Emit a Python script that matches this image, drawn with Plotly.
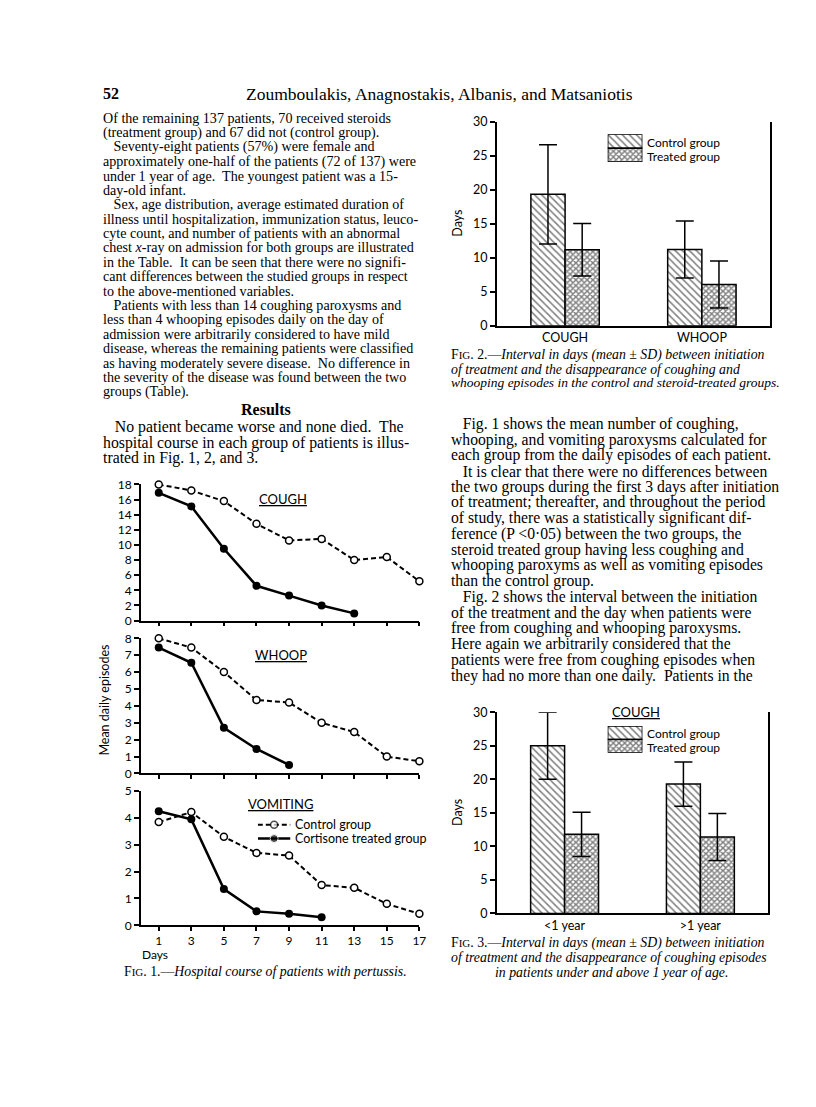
import plotly.graph_objects as go

# ---- Fig. 1: hospital course, mean daily episodes (odd days) ----
days = [1, 3, 5, 7, 9, 11, 13, 15, 17]
cough_control = [18.0, 17.2, 15.8, 12.8, 10.6, 10.8, 8.0, 8.4, 5.2]
cough_treated = [16.9, 15.1, 9.5, 4.6, 3.3, 2.0, 0.95]
whoop_control = [8.0, 7.45, 6.0, 4.35, 4.2, 3.0, 2.45, 1.0, 0.72]
whoop_treated = [7.45, 6.55, 2.7, 1.45, 0.5]
vomit_control = [3.85, 4.22, 3.3, 2.7, 2.6, 1.5, 1.4, 0.8, 0.43]
vomit_treated = [4.25, 3.95, 1.35, 0.52, 0.43, 0.3]

# ---- Fig. 2: days to disappearance (mean +- SD) ----
fig2_cats = ["COUGH", "WHOOP"]
fig2_control = [19.3, 11.2]
fig2_control_sd = [7.3, 4.2]
fig2_treated = [11.15, 6.05]
fig2_treated_sd = [3.85, 3.45]

# ---- Fig. 3: coughing, by age ----
fig3_cats = ["<1 year", ">1 year"]
fig3_control = [25.0, 19.3]
fig3_control_sd = [5.0, 3.3]
fig3_treated = [11.8, 11.4]
fig3_treated_sd = [3.3, 3.5]

SERIF = "Liberation Serif"
SANS = "Lato"

# page is drawn in pixel coords; browser body keeps an 8px margin
OFF = 8
PW, PH = 800, 1091


def fx(px):
    return (px - OFF) / PW


def fy(py):
    return 1 - (py - OFF) / PH


fig = go.Figure()
layout = {}
annotations = []


def txt(s, x, y, size, family=SERIF, anchor="left", angle=0):
    annotations.append(dict(
        text=s, x=fx(x), y=fy(y), xref="paper", yref="paper",
        xanchor=anchor, yanchor="middle", showarrow=False, textangle=angle,
        font=dict(family=family, size=size, color="black")
    ))


# ---------------- Fig. 1 panels ----------------
CONTROL_LINE = dict(color="black", width=2, dash="5px,3px")
TREATED_LINE = dict(color="black", width=2.5)
OPEN_MK = dict(symbol="circle", size=7, color="white", line=dict(color="black", width=1.5))
FULL_MK = dict(symbol="circle", size=8, color="black")

panels = [
    (1, cough_control, cough_treated, 18, 2, 483, 621, False),
    (2, whoop_control, whoop_treated, 8, 1, 639, 776, False),
    (3, vomit_control, vomit_treated, 5, 1, 794, 930, True),
]
for n, ctrl, trt, ymax, dt, ytop, ybot, labels in panels:
    fig.add_trace(go.Scatter(
        x=days[:len(ctrl)], y=ctrl, mode="lines+markers", xaxis=f"x{n}", yaxis=f"y{n}",
        line=CONTROL_LINE, marker=OPEN_MK, cliponaxis=False, showlegend=False
    ))
    fig.add_trace(go.Scatter(
        x=days[:len(trt)], y=trt, mode="lines+markers", xaxis=f"x{n}", yaxis=f"y{n}",
        line=TREATED_LINE, marker=FULL_MK, cliponaxis=False, showlegend=False
    ))
    layout[f"xaxis{n}"] = dict(
        domain=[fx(142), fx(423)], range=[-0.1, 17], anchor=f"y{n}",
        showline=True, linecolor="black", linewidth=1.5, showgrid=False, zeroline=False,
        ticks="outside", tickvals=days, ticklen=4, tickwidth=1.5, tickcolor="black",
        showticklabels=labels, tickfont=dict(family=SANS, size=12, color="black")
    )
    layout[f"yaxis{n}"] = dict(
        domain=[fy(ybot), fy(ytop)], range=[0, ymax], dtick=dt, anchor=f"x{n}",
        showline=True, linecolor="black", linewidth=1.5, showgrid=False, zeroline=False,
        ticks="outside", ticklen=5, tickwidth=1.5, tickcolor="black",
        tickfont=dict(family=SANS, size=12, color="black")
    )

txt("<u>COUGH</u>", 285, 498, 13, SANS, "center")
txt("<u>WHOOP</u>", 283, 656, 13, SANS, "center")
txt("<u>VOMITING</u>", 283, 807, 13, SANS, "center")
txt("Mean daily episodes", 105, 702, 12.5, SANS, "center", -90)
txt("Days", 141, 960, 12, SANS)

# legend samples for Fig. 1
fig.add_trace(go.Scatter(
    x=[0, 0.5, 1], y=[1, 1, 1], mode="lines+markers", xaxis="x4", yaxis="y4",
    line=CONTROL_LINE, marker=dict(OPEN_MK, size=[0, 7, 0]), showlegend=False, cliponaxis=False
))
fig.add_trace(go.Scatter(
    x=[0, 0.5, 1], y=[0, 0, 0], mode="lines+markers", xaxis="x4", yaxis="y4",
    line=TREATED_LINE, marker=dict(FULL_MK, size=[0, 8, 0]), showlegend=False, cliponaxis=False
))
layout["xaxis4"] = dict(domain=[fx(260), fx(293)], range=[0, 1], visible=False, anchor="y4")
layout["yaxis4"] = dict(domain=[fy(849), fy(821)], range=[-0.5, 1.5], visible=False, anchor="x4")
txt("Control group", 296, 828, 12.5, SANS)
txt("Cortisone treated group", 296, 842, 12.5, SANS)

# ---------------- Fig. 2 / Fig. 3 bars ----------------
CTRL_PAT = dict(shape="\\", size=5, solidity=0.3, fgcolor="black", bgcolor="white")
TRT_PAT = dict(shape="x", size=4, solidity=0.6, fgcolor="black", bgcolor="white")
BAR_LINE = dict(color="black", width=1.5)


def err(sd):
    return dict(type="data", array=sd, color="black", thickness=1.5, width=9)


bar_sets = [
    (5, 6, fig2_cats, fig2_control, fig2_control_sd, fig2_treated, fig2_treated_sd,
     (501, 777, 115, 322), (128, 156)),
    (7, 8, fig3_cats, fig3_control, fig3_control_sd, fig3_treated, fig3_treated_sd,
     (501, 775, 714, 918), (728, 755)),
]
for n, m, cats, ctrl, ctrl_sd, trt, trt_sd, (x0, x1, ytop, ybot), (sw0, sw1) in bar_sets:
    fig.add_trace(go.Bar(
        x=cats, y=ctrl, error_y=err(ctrl_sd), xaxis=f"x{n}", yaxis=f"y{n}",
        marker=dict(color="white", line=BAR_LINE, pattern=CTRL_PAT),
        cliponaxis=False, showlegend=False
    ))
    fig.add_trace(go.Bar(
        x=cats, y=trt, error_y=err(trt_sd), xaxis=f"x{n}", yaxis=f"y{n}",
        marker=dict(color="white", line=BAR_LINE, pattern=TRT_PAT),
        cliponaxis=False, showlegend=False
    ))
    layout[f"xaxis{n}"] = dict(
        domain=[fx(x0), fx(x1)], anchor=f"y{n}", type="category",
        categoryorder="array", categoryarray=cats,
        showline=True, linecolor="black", linewidth=1.5, showgrid=False, zeroline=False,
        ticks="", tickfont=dict(family=SANS, size=12.5, color="black")
    )
    layout[f"yaxis{n}"] = dict(
        domain=[fy(ybot), fy(ytop)], range=[0, 30], dtick=5, anchor=f"x{n}",
        showline=True, mirror=True, linecolor="black", linewidth=1.5,
        showgrid=False, zeroline=False, ticks="outside", ticklen=5, tickwidth=1.5,
        tickcolor="black", tickfont=dict(family=SANS, size=12.5, color="black")
    )
    # legend swatches (stacked boxes)
    fig.add_trace(go.Bar(
        x=[0, 0], y=[1, 1], base=[1, 0], width=1, xaxis=f"x{m}", yaxis=f"y{m}",
        marker=dict(color="white", line=BAR_LINE, pattern=dict(
            shape=["\\", "x"], size=[5, 4], solidity=[0.3, 0.6],
            fgcolor="black", bgcolor="white")),
        showlegend=False, hoverinfo="skip"
    ))
    layout[f"xaxis{m}"] = dict(domain=[fx(613), fx(648)], range=[-0.5, 0.5],
                               visible=False, anchor=f"y{m}")
    layout[f"yaxis{m}"] = dict(domain=[fy(sw1), fy(sw0)], range=[0, 2],
                               visible=False, anchor=f"x{m}")
    mid = (sw0 + sw1) / 2
    txt("Control group", 651, (sw0 + mid) / 2 + 1, 12, SANS)
    txt("Treated group", 651, (mid + sw1) / 2 + 1, 12, SANS)
    txt("Days", 462, (ytop + ybot) / 2, 12.5, SANS, "center", -90)

txt("<u>COUGH</u>", 642, 714, 13, SANS, "center")

# ---------------- page text ----------------
txt("<b>52</b>", 102, 87, 16)
txt("Zoumboulakis, Anagnostakis, Albanis, and Matsaniotis", 443, 87, 17.5, SERIF, "center")

left_lines = [
    "Of the remaining 137 patients, 70 received steroids",
    "(treatment group) and 67 did not (control group).",
    "   Seventy-eight patients (57%) were female and",
    "approximately one-half of the patients (72 of 137) were",
    "under 1 year of age.  The youngest patient was a 15-",
    "day-old infant.",
    "   Sex, age distribution, average estimated duration of",
    "illness until hospitalization, immunization status, leuco-",
    "cyte count, and number of patients with an abnormal",
    "chest <i>x</i>-ray on admission for both groups are illustrated",
    "in the Table.  It can be seen that there were no signifi-",
    "cant differences between the studied groups in respect",
    "to the above-mentioned variables.",
    "   Patients with less than 14 coughing paroxysms and",
    "less than 4 whooping episodes daily on the day of",
    "admission were arbitrarily considered to have mild",
    "disease, whereas the remaining patients were classified",
    "as having moderately severe disease.  No difference in",
    "the severity of the disease was found between the two",
    "groups (Table).",
]
for i, line in enumerate(left_lines):
    txt(line, 102, 111.5 + i * 14.58, 14.1)

txt("<b>Results</b>", 268, 407, 16, SERIF, "center")
results_lines = [
    "   No patient became worse and none died.  The",
    "hospital course in each group of patients is illus-",
    "trated in Fig. 1, 2, and 3.",
]
for i, line in enumerate(results_lines):
    txt(line, 102, 425 + i * 15.7, 15.8)

right_lines = [
    "   Fig. 1 shows the mean number of coughing,",
    "whooping, and vomiting paroxysms calculated for",
    "each group from the daily episodes of each patient.",
    "   It is clear that there were no differences between",
    "the two groups during the first 3 days after initiation",
    "of treatment; thereafter, and throughout the period",
    "of study, there was a statistically significant dif-",
    "ference (P &lt;0·05) between the two groups, the",
    "steroid treated group having less coughing and",
    "whooping paroxyms as well as vomiting episodes",
    "than the control group.",
    "   Fig. 2 shows the interval between the initiation",
    "of the treatment and the day when patients were",
    "free from coughing and whooping paroxysms.",
    "Here again we arbitrarily considered that the",
    "patients were free from coughing episodes when",
    "they had no more than one daily.  Patients in the",
]
for i, line in enumerate(right_lines):
    txt(line, 453, 421.5 + i * 15.95, 15.7)

SC = "<span style='font-size:11px'>IG</span>"
txt(f"F{SC}. 2.—<i>Interval in days (mean ± SD) between initiation</i>", 453, 352, 13.8)
txt("<i>of treatment and the disappearance of coughing and</i>", 453, 366, 13.8)
txt("<i>whooping episodes in the control and steroid-treated groups.</i>", 453, 380, 13.5)

txt(f"F{SC}. 3.—<i>Interval in days (mean ± SD) between initiation</i>", 453, 948, 13.8)
txt("<i>of treatment and the disappearance of coughing episodes</i>", 453, 963, 13.8)
txt("<i>in patients under and above 1 year of age.</i>", 617, 978, 13.8, SERIF, "center")

txt(f"F{SC}. 1.—<i>Hospital course of patients with pertussis.</i>", 268, 977, 13.8, SERIF, "center")

fig.update_layout(
    width=PW, height=PH,
    margin=dict(l=0, r=0, t=0, b=0),
    paper_bgcolor="white", plot_bgcolor="rgba(0,0,0,0)",
    barmode="group", bargap=0.5, bargroupgap=0,
    annotations=annotations,
    **layout
)

fig.write_html("out.html")
